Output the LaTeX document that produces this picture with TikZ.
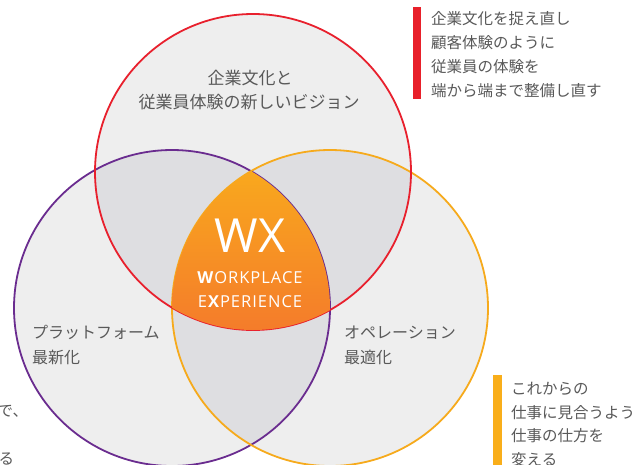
\documentclass[tikz,border=0pt]{standalone}
\usepackage{fontspec}
\setmainfont{Open Sans}
\newfontfamily\jp{Noto Sans CJK JP}
\definecolor{cfill}{HTML}{EEEEEE}
\definecolor{ovl}{HTML}{DEDEE1}
\definecolor{cred}{HTML}{E8202D}
\definecolor{cpur}{HTML}{6A2C8F}
\definecolor{cora}{HTML}{F6AA1C}
\definecolor{wxtop}{HTML}{F9A91D}
\definecolor{wxbot}{HTML}{F47A2B}
\definecolor{txt}{HTML}{595959}
\definecolor{barred}{HTML}{E8202A}
\definecolor{barora}{HTML}{F9AE1A}
\tikzset{
  lbl/.style={anchor=base west, inner sep=0pt, text=txt, font=\jp\fontsize{16}{20}\selectfont},
  lblc/.style={anchor=base, inner sep=0pt, text=txt, font=\jp\fontsize{17}{20}\selectfont},
  note/.style={anchor=base west, inner sep=0pt, text=txt, font=\jp\fontsize{15.5}{20}\selectfont},
  ring/.style={line width=1.8pt},
  wxs/.style={anchor=base, inner sep=0pt, text=white}
}
\begin{document}
\begin{tikzpicture}[x=1pt,y=-1pt]
\useasboundingbox (0,0) rectangle (637,464);
\coordinate (cR) at (253,172);
\coordinate (cP) at (172,308);
\coordinate (cO) at (330,308);
\def\rr{158pt}
% base fills
\fill[cfill] (cR) circle[radius=\rr];
\fill[cfill] (cP) circle[radius=\rr];
\fill[cfill] (cO) circle[radius=\rr];
% pairwise overlaps
\begin{scope}
  \clip (cR) circle[radius=\rr];
  \fill[ovl] (cP) circle[radius=\rr];
  \fill[ovl] (cO) circle[radius=\rr];
\end{scope}
\begin{scope}
  \clip (cP) circle[radius=\rr];
  \fill[ovl] (cO) circle[radius=\rr];
\end{scope}
% rings
\draw[ring, cpur] (cP) circle[radius=\rr];
\draw[ring, cora] (cO) circle[radius=\rr];
\draw[ring, cred] (cR) circle[radius=\rr];
% center region
\begin{scope}
  \clip (cR) circle[radius=\rr];
  \clip (cP) circle[radius=\rr];
  \clip (cO) circle[radius=\rr];
  \shade[top color=wxtop, bottom color=wxbot] (160,168) rectangle (345,336);
\end{scope}
% WX text
\node[wxs, font=\fontsize{47}{47}\selectfont] (wx) at (250,252) {WX};
\node[wxs, font=\fontsize{16.5}{18}\selectfont\addfontfeature{LetterSpace=6}] (wp) at (250,283) {\textbf{W}ORKPLACE};
\node[wxs, font=\fontsize{16.5}{18}\selectfont\addfontfeature{LetterSpace=6}] (ex) at (250,307) {E\textbf{X}PERIENCE};
% circle labels
\node[lblc] (t1) at (250,84) {企業文化と};
\node[lblc] (t2) at (249,108) {従業員体験の新しいビジョン};
\node[lbl] (l1) at (32,338) {プラットフォーム};
\node[lbl] (l2) at (32,363) {最新化};
\node[lbl] (r1) at (344,338) {オペレーション};
\node[lbl] (r2) at (344,363) {最適化};
% top right note
\fill[barred] (413,7) rectangle (421,99);
\node[note] (n1) at (431,24) {企業文化を捉え直し};
\node[note] (n2) at (431,48) {顧客体験のように};
\node[note] (n3) at (431,72) {従業員の体験を};
\node[note] (n4) at (431,96) {端から端まで整備し直す};
% bottom right note
\fill[barora] (493,375) rectangle (502,470);
\node[note] (m1) at (511,394) {これからの};
\node[note] (m2) at (511,418) {仕事に見合うよう};
\node[note] (m3) at (511,441.5) {仕事の仕方を};
\node[note] (m4) at (511,465) {変える};
% clipped bottom-left note
\node[note] (b1) at (-2.5,416) {で、};
\node[note] (b2) at (-1.5,464) {る};
\end{tikzpicture}
\end{document}
